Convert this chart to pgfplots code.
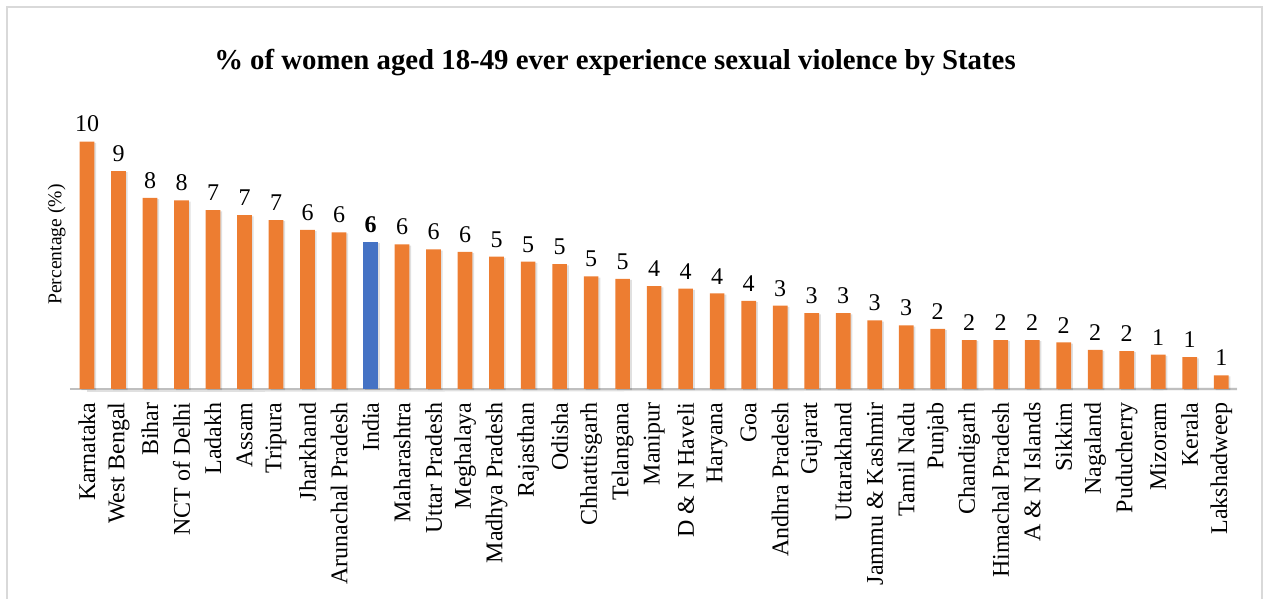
\documentclass[border=0pt]{standalone}
\usepackage{pgfplots}
\pgfplotsset{compat=1.18}
\usepackage{pgfplotstable}
\usetikzlibrary{shadows}
\usepackage{fontspec}
\setmainfont{Liberation Serif}
\definecolor{bOrange}{HTML}{ED7D31}
\definecolor{bBlue}{HTML}{4472C4}
\pgfplotstableread{
x y lab
0 10.1 10
1 8.9 9
2 7.8 8
3 7.7 8
4 7.3 7
5 7.1 7
6 6.9 7
7 6.5 6
8 6.4 6
10 5.9 6
11 5.7 6
12 5.6 6
13 5.4 5
14 5.2 5
15 5.1 5
16 4.6 5
17 4.5 5
18 4.2 4
19 4.1 4
20 3.9 4
21 3.6 4
22 3.4 3
23 3.1 3
24 3.1 3
25 2.8 3
26 2.6 3
27 2.45 2
28 2.0 2
29 2.0 2
30 2.0 2
31 1.9 2
32 1.6 2
33 1.55 2
34 1.4 1
35 1.3 1
36 0.56 1
}\statedata
\pgfplotstableread{
x y lab
9 6.0 6
}\indiadata
\begin{document}
\begin{tikzpicture}
\useasboundingbox (-35pt,-105pt) rectangle (597.5pt,194.5pt);
\draw[black!15, line width=0.8pt] (-31.5pt,-110pt) -- (-31.5pt,191pt) -- (596pt,191pt) -- (596pt,-110pt);
\begin{axis}[
  at={(0,0)}, anchor=south west,
  scale only axis,
  width=583.5pt, height=144.5pt,
  xmin=-0.54, xmax=36.5,
  ymin=0, ymax=11.8,
  axis x line*=bottom,
  axis y line*=left,
  x axis line style={draw=none},
  y axis line style={draw=none},
  ytick=\empty,
  xtick={0,...,36},
  xticklabels={Karnataka,West Bengal,Bihar,NCT of Delhi,Ladakh,Assam,Tripura,Jharkhand,Arunachal Pradesh,India,Maharashtra,Uttar Pradesh,Meghalaya,Madhya Pradesh,Rajasthan,Odisha,Chhattisgarh,Telangana,Manipur,D \& N Haveli,Haryana,Goa,Andhra Pradesh,Gujarat,Uttarakhand,Jammu \& Kashmir,Tamil Nadu,Punjab,Chandigarh,Himachal Pradesh,A \& N Islands,Sikkim,Nagaland,Puducherry,Mizoram,Kerala,Lakshadweep},
  major tick length=0pt,
  xticklabel shift=6.5pt,
  xticklabel style={rotate=90, anchor=east, font=\fontsize{12}{13}\selectfont, inner sep=0pt},
  ylabel={Percentage (\%)},
  ylabel style={at={(axis description cs:-0.0115,0.5)}, anchor=center, font=\fontsize{9.8}{11}\selectfont},
  title={\textbf{\% of women aged 18-49 ever experience sexual violence by States}},
  title style={at={(axis description cs:0.467,1)}, anchor=center, yshift=12.5pt, font=\fontsize{14.4}{16}\selectfont},
  clip=false,
]
\draw[black!12, line width=1.4pt] (axis cs:-0.54,0) ++(0,-0.8pt) -- (axis cs:36.5,0) ++(0,-0.8pt);
\draw[black!25, line width=0.6pt] (axis cs:-0.54,0) -- (axis cs:36.5,0);
\addplot[ybar, bar width=7.35pt, bar shift=0pt, fill=bOrange, draw=none,
  drop shadow={shadow xshift=0.9pt, shadow yshift=-0.6pt, fill=black, opacity=0.12},
  nodes near coords, point meta=explicit symbolic,
  every node near coord/.append style={font=\fontsize{12}{13}\selectfont, anchor=south, yshift=4.5pt, inner sep=0pt}]
  table[x=x, y=y, meta=lab]{\statedata};
\addplot[ybar, bar width=7.35pt, bar shift=0pt, fill=bBlue, draw=none,
  drop shadow={shadow xshift=0.9pt, shadow yshift=-0.6pt, fill=black, opacity=0.12},
  nodes near coords, point meta=explicit symbolic,
  every node near coord/.append style={font=\fontsize{12}{13}\selectfont\bfseries, anchor=south, yshift=4.5pt, inner sep=0pt}]
  table[x=x, y=y, meta=lab]{\indiadata};
\end{axis}
\end{tikzpicture}
\end{document}
